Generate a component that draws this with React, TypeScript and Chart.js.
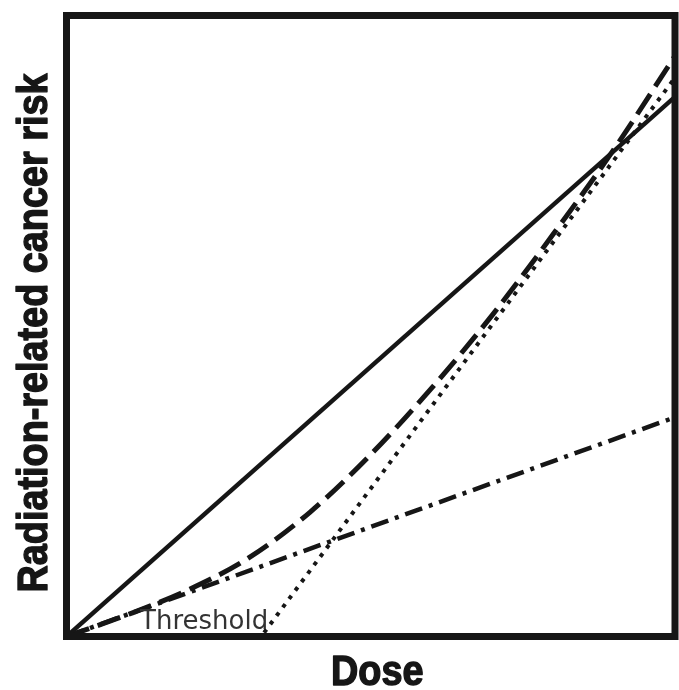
import React, { useEffect, useRef } from "react";
import { Chart, registerables } from "chart.js";

Chart.register(...registerables);

// Dose (fraction of axis) and risk (fraction of axis)
const doseGrid = [0, 0.1, 0.2, 0.3, 0.4, 0.5, 0.6, 0.7, 0.8, 0.9, 1.0];
const linearDose = [0, 1];
const linearRisk = [0, 0.869];
const supraDose = doseGrid;
const supraRisk = [0, 0.035, 0.075, 0.127, 0.2, 0.293, 0.4, 0.518, 0.648, 0.785, 0.935];
const thresholdDose = [0, 0.32, 1];
const thresholdRisk = [0, 0, 0.9];
const subDose = [0, 1];
const subRisk = [0, 0.353];

const xTitle = "Dose";
const yTitle = "Radiation-related cancer risk";
const thresholdLabel = "Threshold";
const thresholdAt = 0.32;

const INK = "#161616";
const titleFont = "bold 42px 'Liberation Sans', Arial, sans-serif";
const condense = 0.9;

const pts = (xs: number[], ys: number[]) => xs.map((x, i) => ({ x, y: ys[i] }));

function heavyText(ctx: CanvasRenderingContext2D, text: string) {
  ctx.fillText(text, 0, 0);
  ctx.lineWidth = 1.4;
  ctx.lineJoin = "round";
  ctx.strokeStyle = INK;
  ctx.strokeText(text, 0, 0);
}

const framePlugin = {
  id: "frameAndLabels",
  afterDatasetsDraw(chart: any) {
    const { ctx, chartArea, scales } = chart;
    const { left, right, top, bottom } = chartArea;
    ctx.save();
    // Threshold label
    ctx.font = "26px 'DejaVu Sans', sans-serif";
    ctx.fillStyle = "#333333";
    ctx.textAlign = "right";
    ctx.textBaseline = "alphabetic";
    ctx.fillText(thresholdLabel, scales.x.getPixelForValue(thresholdAt) + 7, bottom - 8);
    // Frame
    ctx.strokeStyle = INK;
    ctx.lineWidth = 7;
    ctx.strokeRect(left, top, right - left, bottom - top);
    ctx.restore();

    // Axis titles (bold, condensed)
    ctx.save();
    ctx.font = titleFont;
    ctx.fillStyle = INK;
    ctx.textAlign = "center";
    ctx.textBaseline = "alphabetic";
    ctx.translate((left + right) / 2 + 6.5, bottom + 48.5);
    ctx.scale(condense, 1);
    heavyText(ctx, xTitle);
    ctx.restore();

    ctx.save();
    ctx.font = titleFont;
    ctx.fillStyle = INK;
    ctx.textAlign = "center";
    ctx.textBaseline = "alphabetic";
    ctx.translate(left - 20, (top + bottom) / 2 + 7);
    ctx.rotate(-Math.PI / 2);
    ctx.scale(condense, 1);
    heavyText(ctx, yTitle);
    ctx.restore();
  },
};

export default function App() {
  const ref = useRef<HTMLCanvasElement | null>(null);
  useEffect(() => {
    if (!ref.current) return;
    const common = { borderColor: INK, pointRadius: 0, fill: false, borderCapStyle: "butt" as const };
    const chart = new Chart(ref.current, {
      type: "line",
      data: {
        datasets: [
          { ...common, label: "Linear", data: pts(linearDose, linearRisk), borderWidth: 4.5 },
          {
            ...common,
            label: "Supralinear curve",
            data: pts(supraDose, supraRisk),
            borderWidth: 5,
            borderDash: [24, 9],
            cubicInterpolationMode: "monotone",
          },
          { ...common, label: "Threshold", data: pts(thresholdDose, thresholdRisk), borderWidth: 4, borderDash: [4, 6.5] },
          { ...common, label: "Sublinear", data: pts(subDose, subRisk), borderWidth: 4.5, borderDash: [18, 7, 4, 7] },
        ],
      },
      options: {
        animation: false,
        responsive: true,
        maintainAspectRatio: false,
        layout: { padding: { top: 15.5, right: 4, left: 66.5, bottom: 53.5 } },
        plugins: { legend: { display: false }, tooltip: { enabled: false } },
        scales: {
          x: { type: "linear", min: 0, max: 1, display: false },
          y: { type: "linear", min: 0, max: 1, display: false },
        },
      },
      plugins: [framePlugin],
    });
    return () => chart.destroy();
  }, []);
  return (
    <div style={{ position: "fixed", left: 0, top: 0, width: 679, height: 690, background: "#fff" }}>
      <canvas ref={ref} />
    </div>
  );
}
